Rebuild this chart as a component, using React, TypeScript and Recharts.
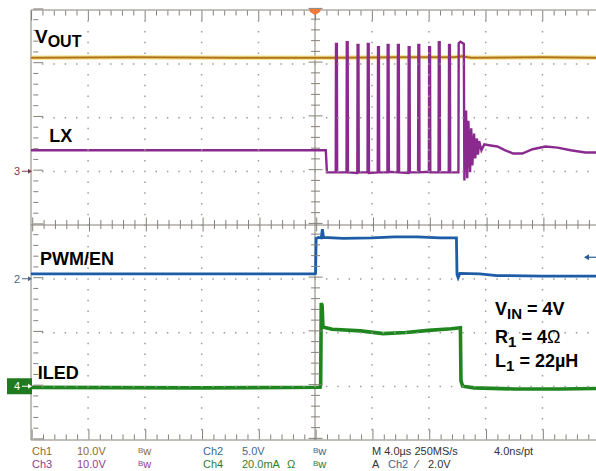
import React from "react";
import {
  LineChart,
  Line,
  XAxis,
  YAxis,
  ReferenceLine,
  ReferenceArea,
  ReferenceDot
} from "recharts";

// scope screen is 10 x 8 divisions, all values below are in divisions
const xTicks = Array.from({ length: 51 }, (_, i) => +(-5 + i * 0.2).toFixed(1));
const yTicks = Array.from({ length: 41 }, (_, i) => +(-4 + i * 0.2).toFixed(1));

// [time div, level div]
const voutTrace = [
  [-5, 3.11], [-3.2, 3.12], [-1.4, 3.11], [0.3, 3.11], [1.5, 3.12],
  [2.45, 3.12], [2.58, 3.14], [2.75, 3.11], [4, 3.12], [5, 3.11]
];

const lxTrace = [
  [-5, 1.39], [-2.5, 1.39], [0.19, 1.39], [0.21, 0.98],
  [0.365, 0.98], [0.37, 3.37], [0.385, 3.37], [0.39, 0.98],
  [0.555, 0.98], [0.56, 3.4], [0.575, 3.4], [0.58, 0.98],
  [0.745, 0.97], [0.75, 3.35], [0.765, 3.35], [0.77, 0.98],
  [0.925, 0.98], [0.93, 3.37], [0.945, 3.37], [0.95, 0.97],
  [1.105, 0.98], [1.11, 3.31], [1.125, 3.31], [1.13, 0.98],
  [1.275, 0.98], [1.28, 3.35], [1.295, 3.35], [1.3, 0.99],
  [1.455, 0.98], [1.46, 3.35], [1.475, 3.35], [1.48, 0.98],
  [1.645, 0.97], [1.65, 3.31], [1.665, 3.31], [1.67, 0.98],
  [1.815, 0.98], [1.82, 3.35], [1.835, 3.35], [1.84, 0.98],
  [2.005, 0.99], [2.01, 3.31], [2.025, 3.31], [2.03, 0.98],
  [2.175, 0.98], [2.18, 3.4], [2.195, 3.4], [2.2, 0.98],
  [2.355, 0.98], [2.36, 3.35], [2.375, 3.35], [2.38, 0.98],
  [2.525, 0.98], [2.53, 3.38], [2.56, 3.41], [2.59, 3.39], [2.62, 3.37],
  [2.63, 0.83], [2.66, 2.13], [2.68, 0.87], [2.7, 1.94], [2.73, 0.98],
  [2.75, 1.8], [2.77, 1.11], [2.8, 1.7], [2.82, 1.24], [2.85, 1.61],
  [2.87, 1.31], [2.89, 1.56], [2.93, 1.39], [2.98, 1.5], [3.09, 1.48],
  [3.21, 1.46], [3.35, 1.39], [3.49, 1.33], [3.65, 1.33], [3.83, 1.41],
  [4.06, 1.46], [4.27, 1.44], [4.5, 1.39], [4.76, 1.35], [5, 1.35]
];

const pwmTrace = [
  [-5, -0.91], [-2, -0.91], [-0.02, -0.91], [0.01, -0.9], [0.02, -0.25],
  [0.06, -0.23], [0.11, -0.24], [0.13, -0.08], [0.15, -0.23], [0.5, -0.25],
  [1.0, -0.24], [1.4, -0.22], [1.8, -0.22], [2.2, -0.24], [2.49, -0.24],
  [2.5, -0.92], [2.52, -0.98], [2.55, -0.9], [2.9, -0.91], [3.2, -0.94],
  [4.0, -0.95], [5, -0.95]
];

const iledTrace = [
  [-5, -3.02], [-2, -3.03], [0.09, -3.02], [0.1, -2.96], [0.11, -1.45],
  [0.125, -1.5], [0.14, -1.9], [0.3, -1.94], [0.8, -1.97], [1.2, -2.02],
  [1.6, -2.0], [2.0, -1.96], [2.4, -1.93], [2.56, -1.91], [2.57, -2.9],
  [2.6, -3.0], [2.8, -3.03], [3.5, -3.05], [4.3, -3.05], [5, -3.04]
];

const groundLevels = [1, -1, -3]; // ch3, ch2, ch4
const markerLabels = ["3", "2", "4"];
const markerColors = ["#7a3b4b", "#4d6680", "#fff"];
const triggerLevel = -0.6;

const pts = (a: number[][]) => a.map(([t, v]) => ({ t, v }));

const FONT = "'Liberation Sans', Arial, Helvetica, sans-serif";
const FRAME = "#858079";
const DOT = "#9c9c9c";
const PLOT_W = 568;
const PLOT_H = 430;
const isMajor = (v: number) => Math.abs(v - Math.round(v)) < 1e-6;

const tickPath = (x: number, y: number, d: number[]) =>
  `M${x + d[0]} ${y + d[1]}L${x + d[2]} ${y + d[3]}`;

// all tick marks of one row/column in one path, anchored on the first tick
const hTickRow = (len: (t: number) => number[]) => (p: any) => {
  let d = "";
  xTicks.forEach((t, i) => {
    d += tickPath(p.cx + i * (PLOT_W / 50), p.cy, len(t));
  });
  return <g><path d={d} stroke={FRAME} strokeWidth={1} fill="none" /></g>;
};
const vTickCol = (len: (v: number) => number[]) => (p: any) => {
  let d = "";
  yTicks.forEach((v, i) => {
    d += tickPath(p.cx, p.cy - i * (PLOT_H / 40), len(v));
  });
  return <g><path d={d} stroke={FRAME} strokeWidth={1} fill="none" /></g>;
};

// dotted division lines, anchored on the top-left corner
const gridDots = () => (p: any) => {
  let d = "";
  for (let i = 1; i < 10; i++) {
    if (i === 5) continue;
    const x = p.cx + (i * PLOT_W) / 10;
    for (let j = 1; j < 40; j++) {
      const y = p.cy + (j * PLOT_H) / 40;
      d += `M${x} ${y - 0.75}L${x} ${y + 0.75}`;
    }
  }
  for (let k = 1; k < 8; k++) {
    if (k === 4) continue;
    const y = p.cy + (k * PLOT_H) / 8;
    for (let j = 1; j < 50; j++) {
      const x = p.cx + (j * PLOT_W) / 50;
      d += `M${x - 0.75} ${y}L${x + 0.75} ${y}`;
    }
  }
  return <g><path d={d} stroke={DOT} strokeWidth={1.5} fill="none" /></g>;
};

const boldText = (parts: any) => (p: any) => (
  <text x={p.cx} y={p.cy} fontFamily={FONT} fontWeight="bold" fontSize={18} fill="#000">
    {parts}
  </text>
);

const chMarker = (label: string, color: string, boxed: boolean) => (p: any) => (
  <g>
    {boxed && <rect x={p.cx - 24} y={p.cy - 8} width={25} height={16} fill="#1f7a1f" />}
    <text x={p.cx - 17} y={p.cy + 4} fontFamily={FONT} fontSize={11} fill={boxed ? "#fff" : color}>
      {label}
    </text>
    <line x1={p.cx - 9} y1={p.cy} x2={p.cx - 2} y2={p.cy} stroke={boxed ? "#fff" : color} strokeWidth={1} />
    <path d={`M${p.cx - 3} ${p.cy - 2.5} L${p.cx + 1} ${p.cy} L${p.cx - 3} ${p.cy + 2.5} Z`} fill={boxed ? "#fff" : color} />
  </g>
);

const Bw = ({ x, y }: { x: number; y: number }) => (
  <text x={x} y={y}><tspan fontSize={8} dy={-2}>B</tspan><tspan dy={2}>w</tspan></text>
);

const mj = (v: number) => isMajor(v);

export default function App() {
  return (
    <div style={{ position: "relative", width: 596, height: 471, overflow: "hidden", background: "#fff" }}>
      <style>{`body{margin:0}`}</style>
      <LineChart width={600} height={471} margin={{ top: 10, right: 1, bottom: 31, left: 31 }}>
        <XAxis dataKey="t" type="number" domain={[-5, 5]} hide allowDataOverflow />
        <YAxis type="number" domain={[-4, 4]} hide allowDataOverflow />

        <ReferenceLine x={0} stroke={FRAME} />
        <ReferenceLine y={0} stroke={FRAME} />
        <ReferenceArea x1={-5} x2={5} y1={-4} y2={4} fill="none" stroke={FRAME} ifOverflow="visible" />

        <Line data={pts(voutTrace)} dataKey="v" stroke="#f3dc7a" strokeOpacity={0.8} strokeWidth={4.5} dot={false} isAnimationActive={false} />
        <Line data={pts(voutTrace)} dataKey="v" stroke="#b0731a" strokeWidth={2} dot={false} isAnimationActive={false} />
        <Line data={pts(lxTrace)} dataKey="v" stroke="#8b2a8e" strokeWidth={2.4} dot={false} isAnimationActive={false} />
        <Line data={pts(pwmTrace)} dataKey="v" stroke="#1d5ca6" strokeWidth={2.8} dot={false} isAnimationActive={false} />
        <Line data={pts(iledTrace)} dataKey="v" stroke="#1f861f" strokeWidth={3.6} dot={false} isAnimationActive={false} />

        <ReferenceDot x={-4.995} y={3.995} ifOverflow="visible" shape={gridDots()} />
        <ReferenceDot x={-4.99} y={3.99} ifOverflow="visible"
          shape={hTickRow((t) => [0, 0, 0, mj(t) ? 10 : 5])} />
        <ReferenceDot x={-4.98} y={-3.99} ifOverflow="visible"
          shape={hTickRow((t) => [0, 0, 0, mj(t) ? -10 : -5])} />
        <ReferenceDot x={-4.97} y={0.01} ifOverflow="visible"
          shape={hTickRow((t) => (mj(t) ? [0, -7, 0, 7] : [0, -4.5, 0, 4.5]))} />
        <ReferenceDot x={-4.96} y={-3.98} ifOverflow="visible"
          shape={vTickCol((v) => [0, 0, mj(v) ? 10 : 5, 0])} />
        <ReferenceDot x={0.01} y={-3.97} ifOverflow="visible"
          shape={vTickCol((v) => (mj(v) ? [-7, 0, 7, 0] : [-4.5, 0, 4.5, 0]))} />

        {groundLevels.map((v, i) => (
          <ReferenceDot key={"m" + i} x={-5} y={v} ifOverflow="visible"
            shape={chMarker(markerLabels[i], markerColors[i], i === 2)} />
        ))}
        <ReferenceDot x={5} y={triggerLevel} ifOverflow="visible" shape={(p: any) => (
          <g>
            <line x1={p.cx - 14} y1={p.cy} x2={p.cx - 3} y2={p.cy} stroke="#2a5d93" strokeWidth={1.2} />
            <path d={`M${p.cx - 15} ${p.cy} L${p.cx - 10} ${p.cy - 3} L${p.cx - 10} ${p.cy + 3} Z`} fill="#2a5d93" />
          </g>
        )} />
        <ReferenceDot x={0} y={4} ifOverflow="visible" shape={(p: any) => (
          <path d={`M${p.cx - 6} ${p.cy - 1} L${p.cx + 6} ${p.cy - 1} L${p.cx + 5} ${p.cy + 2} L${p.cx} ${p.cy + 5} L${p.cx - 5} ${p.cy + 2} Z`} fill="#f07a3a" />
        )} />

        <ReferenceDot x={-4.93} y={3.39} ifOverflow="visible" shape={(p: any) => (
          <text x={p.cx} y={p.cy} fontFamily={FONT} fontWeight="bold" fontSize={19} fill="#000">
            V<tspan fontSize={16} dy={4}>OUT</tspan>
          </text>
        )} />
        <ReferenceDot x={-4.68} y={1.54} ifOverflow="visible" shape={boldText("LX")} />
        <ReferenceDot x={-4.84} y={-0.74} ifOverflow="visible" shape={boldText("PWM/EN")} />
        <ReferenceDot x={-4.88} y={-2.87} ifOverflow="visible" shape={boldText("ILED")} />
        <ReferenceDot x={3.17} y={-1.67} ifOverflow="visible" shape={boldText(
          <>V<tspan fontSize={15} dy={4}>IN</tspan><tspan dy={-4}> = 4V</tspan></>
        )} />
        <ReferenceDot x={3.17} y={-2.2} ifOverflow="visible" shape={boldText(
          <>R<tspan fontSize={15} dy={4}>1</tspan><tspan dy={-4}> = 4</tspan><tspan fontWeight="normal">Ω</tspan></>
        )} />
        <ReferenceDot x={3.17} y={-2.64} ifOverflow="visible" shape={boldText(
          <>L<tspan fontSize={15} dy={4}>1</tspan><tspan dy={-4}> = 22µH</tspan></>
        )} />
      </LineChart>

      <svg width={596} height={471} style={{ position: "absolute", left: 0, top: 0, pointerEvents: "none" }}
        fontFamily={FONT} fontSize={11}>
        <g fill="#8d6b2e">
          <text x={32} y={455}>Ch1</text>
          <text x={77} y={455}>10.0V</text>
          <Bw x={138} y={455} />
        </g>
        <g fill="#3a6a8f">
          <text x={203} y={455}>Ch2</text>
          <text x={242} y={455}>5.0V</text>
          <Bw x={313} y={455} />
        </g>
        <g fill="#8e3f8e">
          <text x={32} y={468}>Ch3</text>
          <text x={77} y={468}>10.0V</text>
          <Bw x={138} y={468} />
        </g>
        <g fill="#2f7d2f">
          <text x={203} y={468}>Ch4</text>
          <text x={242} y={468}>20.0mA</text>
          <text x={287} y={468}>Ω</text>
          <Bw x={313} y={468} />
        </g>
        <g fill="#333">
          <text x={372} y={455}>M 4.0µs 250MS/s</text>
          <text x={494} y={455}>4.0ns/pt</text>
          <text x={372} y={468}>A</text>
          <text x={388} y={468} fill="#3a6a8f">Ch2</text>
          <text x={416} y={468}>⁄</text>
          <text x={428} y={468}>2.0V</text>
        </g>
      </svg>
    </div>
  );
}
